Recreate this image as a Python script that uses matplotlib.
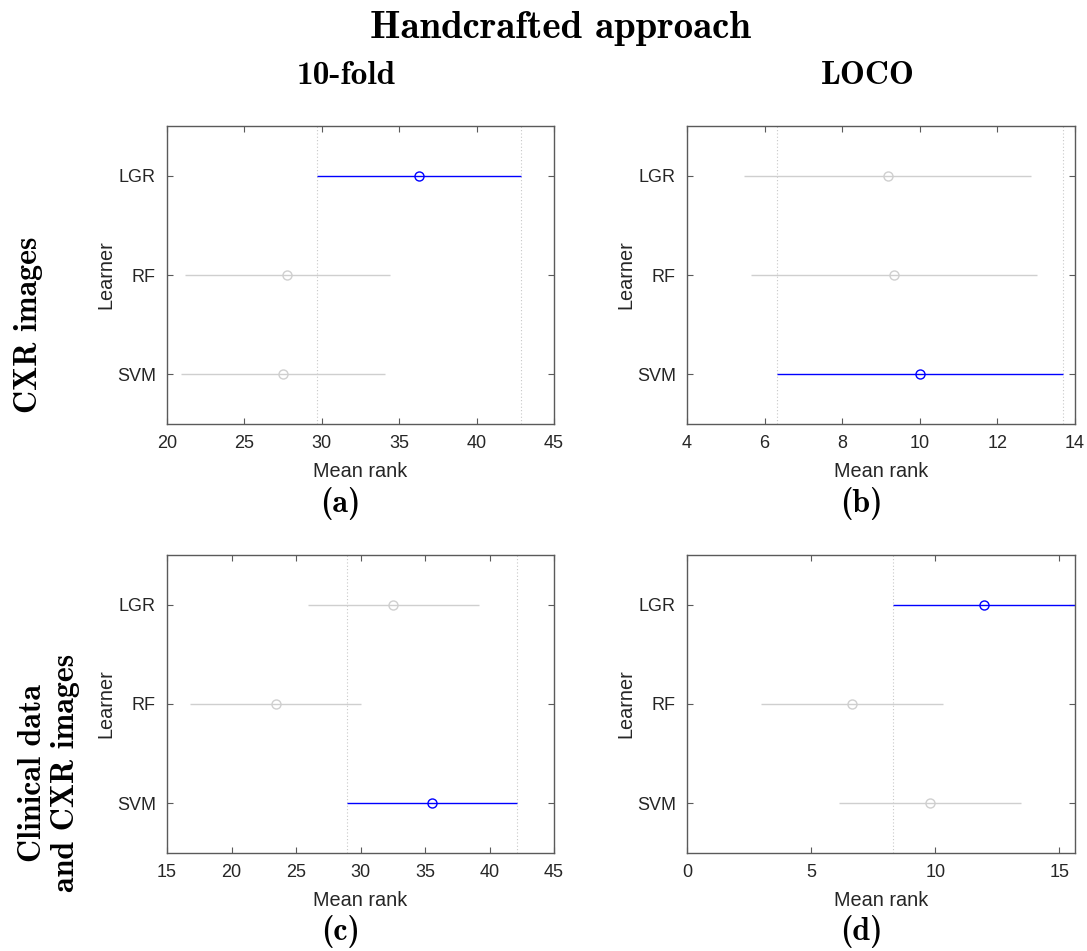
import matplotlib
matplotlib.use("Agg")
import matplotlib.pyplot as plt
import numpy as np

# ---- data ----
learners = ["LGR", "RF", "SVM"]

# (a) CXR images, 10-fold
a_mean = [36.28, 27.77, 27.49]
a_half = [6.61, 6.61, 6.61]
# (b) CXR images, LOCO
b_mean = [9.17, 9.34, 10.01]
b_half = [3.69, 3.69, 3.69]
# (c) Clinical + CXR, 10-fold
c_mean = [32.54, 23.42, 35.54]
c_half = [6.62, 6.62, 6.62]
# (d) Clinical + CXR, LOCO
d_mean = [11.96, 6.64, 9.80]
d_half = [3.67, 3.67, 3.67]

selected = [0, 2, 2, 0]   # highlighted learner index per panel
xlims = [(20, 45), (4, 14), (15, 45), (0, 15.63)]
xticks = [[20, 25, 30, 35, 40, 45], [4, 6, 8, 10, 12, 14],
          [15, 20, 25, 30, 35, 40, 45], [0, 5, 10, 15]]
panel_labels = ["(a)", "(b)", "(c)", "(d)"]

W, H = 1087, 951
fig = plt.figure(figsize=(W / 100, H / 100), dpi=100)

tick_font = "Liberation Sans"
cm_font = "cmb10"
txt_col = "#262626"
spine_col = "#5a5a5a"

rects = [(167, 126, 554, 424), (687, 126, 1075, 424),
         (167, 555, 554, 853), (687, 555, 1075, 853)]

means = [a_mean, b_mean, c_mean, d_mean]
halves = [a_half, b_half, c_half, d_half]

for i in range(4):
    l, t, r, b = rects[i]
    ax = fig.add_axes([l / W, (H - b) / H, (r - l) / W, (b - t) / H])
    m = np.array(means[i])
    h = np.array(halves[i])
    ypos = np.arange(1, len(learners) + 1)
    sel = selected[i]
    # dotted comparison lines
    ax.axvline(m[sel] - h[sel], color="#c8c8c8", ls=(0, (1, 2)), lw=0.8, zorder=1)
    ax.axvline(m[sel] + h[sel], color="#c8c8c8", ls=(0, (1, 2)), lw=0.8, zorder=1)
    for k in range(len(learners)):
        col = "blue" if k == sel else "#cfcfcf"
        ax.plot([m[k] - h[k], m[k] + h[k]], [ypos[k], ypos[k]], color=col, lw=1.0,
                zorder=2, solid_capstyle="butt")
        ax.plot([m[k]], [ypos[k]], marker="o", mfc="none", mec=col, ms=6.5, mew=1.0,
                zorder=3)
    ax.set_ylim(3.5, 0.5)
    ax.set_xlim(*xlims[i])
    ax.set_yticks(ypos)
    ax.set_yticklabels(learners)
    ax.set_xticks(xticks[i])
    ax.tick_params(direction="in", length=4, width=0.8, top=True, right=True,
                   colors=spine_col, labelcolor=txt_col, labelsize=13, pad=8)
    for lab in ax.get_xticklabels() + ax.get_yticklabels():
        lab.set_fontfamily(tick_font)
    for s in ax.spines.values():
        s.set_color(spine_col)
        s.set_linewidth(1.0)
    ax.set_xlabel("Mean rank", fontfamily=tick_font, fontsize=14.3, color=txt_col,
                  labelpad=7)
    ax.set_ylabel("Learner", fontfamily=tick_font, fontsize=14.3, color=txt_col,
                  labelpad=1)
    cx = (l + r) / 2 - 20
    fig.text(cx / W, 1 - (b + 79) / H, panel_labels[i], fontfamily=cm_font,
             fontsize=23, ha="center", va="center")

fig.text(560 / W, 1 - 28 / H, "Handcrafted approach", fontfamily=cm_font,
         fontsize=28, ha="center", va="center")
fig.text(346 / W, 1 - 75 / H, "10-fold", fontfamily=cm_font, fontsize=24,
         ha="center", va="center")
fig.text(868 / W, 1 - 75 / H, "LOCO", fontfamily=cm_font, fontsize=24,
         ha="center", va="center")
fig.text(29 / W, 1 - 325 / H, "CXR images", fontfamily=cm_font, fontsize=23,
         ha="center", va="center", rotation=90)
fig.text(49 / W, 1 - 773 / H, "Clinical data\nand CXR images", fontfamily=cm_font,
         fontsize=23, ha="center", va="center", rotation=90, multialignment="center",
         linespacing=1.16)

fig.savefig("out.png", dpi=100, facecolor="white")
